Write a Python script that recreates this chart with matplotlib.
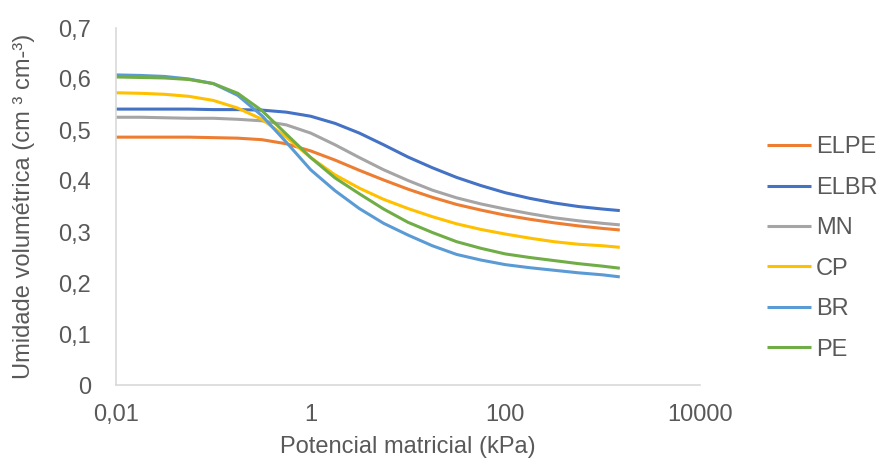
import matplotlib
matplotlib.use("Agg")
import matplotlib.pyplot as plt

# Matric potential (kPa)
potencial = [0.01, 0.0178, 0.0316, 0.0562, 0.1, 0.178, 0.316, 0.562, 1, 1.78,
             3.16, 5.62, 10, 17.8, 31.6, 56.2, 100, 178, 316, 562, 1000, 1500]

# Volumetric water content (cm3 cm-3) per soil
ELPE = [0.486, 0.486, 0.486, 0.486, 0.485, 0.484, 0.481, 0.473, 0.459, 0.441,
        0.421, 0.402, 0.384, 0.368, 0.354, 0.343, 0.333, 0.325, 0.318, 0.312,
        0.307, 0.304]
ELBR = [0.541, 0.541, 0.541, 0.541, 0.540, 0.540, 0.539, 0.535, 0.527, 0.513,
        0.494, 0.471, 0.447, 0.426, 0.407, 0.391, 0.377, 0.366, 0.357, 0.350,
        0.345, 0.342]
MN = [0.525, 0.525, 0.524, 0.523, 0.523, 0.521, 0.518, 0.510, 0.494, 0.471,
      0.446, 0.422, 0.401, 0.382, 0.367, 0.355, 0.345, 0.336, 0.328, 0.322,
      0.317, 0.314]
CP = [0.573, 0.572, 0.570, 0.566, 0.558, 0.543, 0.521, 0.486, 0.446, 0.412,
      0.386, 0.364, 0.346, 0.330, 0.316, 0.305, 0.296, 0.288, 0.281, 0.276,
      0.273, 0.270]
BR = [0.608, 0.607, 0.605, 0.600, 0.591, 0.568, 0.528, 0.476, 0.422, 0.381,
      0.346, 0.317, 0.294, 0.273, 0.256, 0.245, 0.236, 0.230, 0.225, 0.220,
      0.216, 0.212]
PE = [0.604, 0.603, 0.602, 0.599, 0.591, 0.572, 0.538, 0.492, 0.446, 0.406,
      0.375, 0.345, 0.319, 0.299, 0.281, 0.268, 0.257, 0.250, 0.244, 0.238,
      0.233, 0.229]

series = [("ELPE", ELPE, "#ED7D31"), ("ELBR", ELBR, "#4472C4"),
          ("MN", MN, "#A5A5A5"), ("CP", CP, "#FFC000"),
          ("BR", BR, "#5B9BD5"), ("PE", PE, "#70AD47")]

xticks = [0.01, 1, 100, 10000]
xticklabels = ["0,01", "1", "100", "10000"]
yticks = [0, 0.1, 0.2, 0.3, 0.4, 0.5, 0.6, 0.7]
yticklabels = ["0", "0,1", "0,2", "0,3", "0,4", "0,5", "0,6", "0,7"]

plt.rcParams['font.family'] = ['Liberation Sans', 'DejaVu Sans']
txt = "#595959"
fs = 17

fig = plt.figure(figsize=(8.81, 4.61), dpi=100)
ax = fig.add_axes([116/881, 1-385/461, (700-116)/881, (385-28)/461])

for name, vals, col in series:
    ax.plot(potencial, vals, color=col, lw=2.2, label=name,
            solid_capstyle='butt', solid_joinstyle='round')

ax.set_xscale('log')
ax.set_xlim(0.01, 10000)
ax.set_ylim(0, 0.7)
ax.set_xticks(xticks)
ax.set_xticklabels(xticklabels)
ax.minorticks_off()
ax.set_yticks(yticks)
ax.set_yticklabels(yticklabels)
ax.tick_params(axis='both', length=0, labelsize=fs, colors=txt)
ax.tick_params(axis='x', pad=13.5)
ax.tick_params(axis='y', pad=18)

for s in ['top', 'right']:
    ax.spines[s].set_visible(False)
for s in ['left', 'bottom']:
    ax.spines[s].set_color('#D9D9D9')
    ax.spines[s].set_linewidth(1.2)

ax.set_xlabel("Potencial matricial (kPa)", fontsize=fs, color=txt)
ax.xaxis.set_label_coords(0.5, (385-436)/357)
ax.set_ylabel("Umidade volumétrica (cm ³ cm-³)", fontsize=fs, color=txt,
              va='center')
ax.yaxis.set_label_coords((24-116)/584, 0.5)

leg = fig.legend(loc='center left', bbox_to_anchor=(767/881, 1-248.5/461),
                 frameon=False, fontsize=fs, handlelength=1.86,
                 handletextpad=0.21, labelspacing=0.78, borderaxespad=0,
                 borderpad=0)
for t in leg.get_texts():
    t.set_color(txt)

fig.savefig("out.png", dpi=100)
